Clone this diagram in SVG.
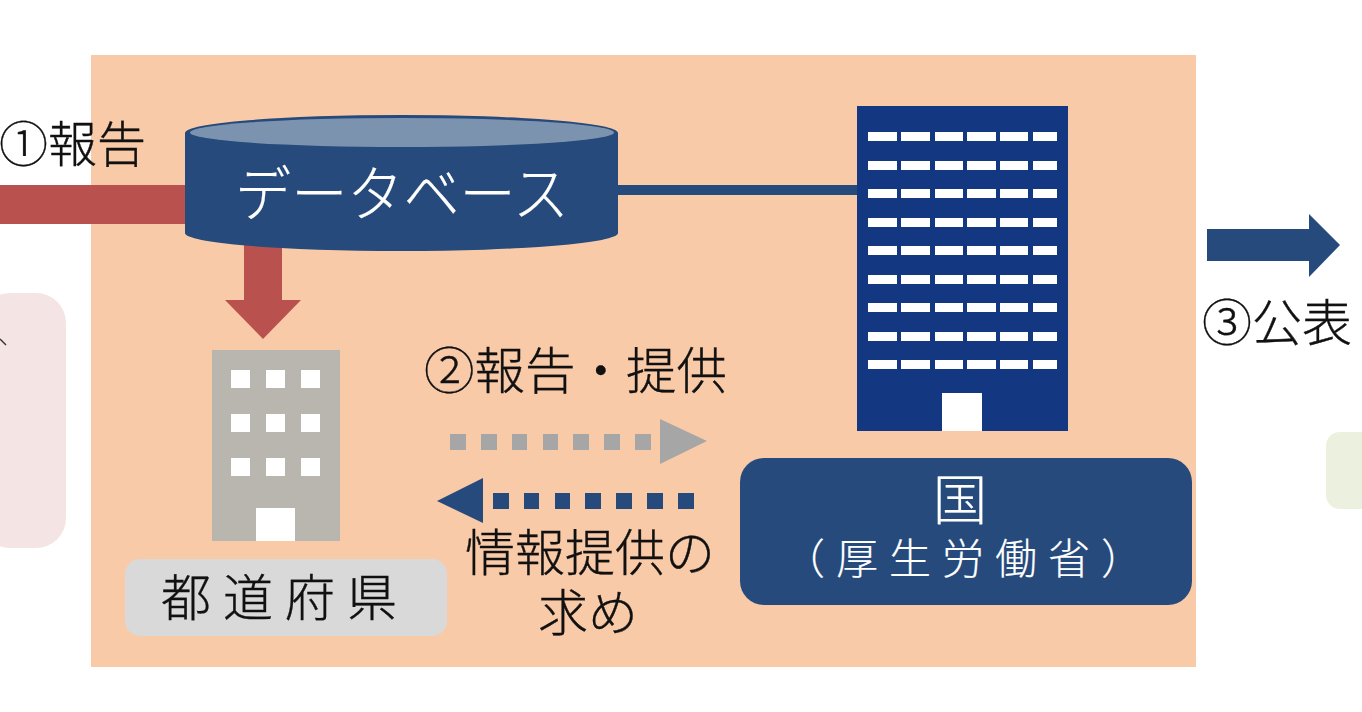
<svg xmlns="http://www.w3.org/2000/svg" width="1362" height="712" viewBox="0 0 1362 712">
<style>
text{font-family:"Noto Sans CJK JP","Liberation Sans",sans-serif;font-weight:300;fill:#111;stroke:#111;stroke-width:.35px}
.lbl{font-size:50px}
.ctr{text-anchor:middle}
.inv{fill:#fff;stroke:#fff;stroke-width:.2px}
</style>
<rect width="1362" height="712" fill="#fff"/>
<rect x="91" y="55" width="1105" height="612" fill="#f8caa8"/>
<rect x="-20" y="293" width="86" height="255" rx="30" fill="#f4e5e4"/>
<path d="M0 339L6 345" stroke="#333" stroke-width="1.500" fill="none"/>
<rect x="1326" y="432" width="60" height="77" rx="14" fill="#ebf0df"/>
<g id="connectors">
<rect x="0" y="185" width="190" height="39" fill="#b9524f"/>
<path d="M244 245H282V300H301L263 339L225 300H244Z" fill="#b9524f"/>
<rect x="610" y="185" width="250" height="10" fill="#254a7b"/>
<path d="M1207 229H1309V214L1340 245L1309 277V261H1207Z" fill="#254a7b"/>
<path d="M450 434h16v16h-16zM481 434h16v16h-16zM512 434h15v16h-15zM543 434h15v16h-15zM573 434h16v16h-16zM604 434h16v16h-16zM635 434h16v16h-16zM660 419L707 441L660 464Z" fill="#a6a6a6"/>
<path d="M493 493h16v16h-16zM524 493h15v16h-15zM555 493h15v16h-15zM585 493h16v16h-16zM616 493h16v16h-16zM647 493h16v16h-16zM678 493h16v16h-16zM483 478L437 501L483 523Z" fill="#254a7b"/>
</g>
<g id="database">
<path d="M185 133A216.500 18 0 0 1 618 133V233A216.500 18 0 0 1 185 233Z" fill="#254a7b"/>
<ellipse cx="402" cy="132.500" rx="212" ry="14.500" fill="#7c93b0"/>
<text class="inv ctr" x="402" y="216" font-size="60" textLength="334" lengthAdjust="spacingAndGlyphs">データベース</text>
</g>
<g id="prefecture-building">
<rect x="212" y="350" width="128" height="191" fill="#b8b6ae"/>
<g fill="#fff">
<rect x="231" y="370" width="19" height="18"/><rect x="266" y="370" width="19" height="18"/><rect x="301" y="370" width="19" height="18"/>
<rect x="231" y="414" width="19" height="18"/><rect x="266" y="414" width="19" height="18"/><rect x="301" y="414" width="19" height="18"/>
<rect x="231" y="458" width="19" height="18"/><rect x="266" y="458" width="19" height="18"/><rect x="301" y="458" width="19" height="18"/>
<rect x="256" y="508" width="39" height="33"/>
</g>
</g>
<g id="prefecture">
<rect x="125" y="559" width="322" height="77" rx="15" fill="#d9d9d9"/>
<text x="161" y="616" font-size="50" letter-spacing="12">都道府県</text>
</g>
<g id="gov-building">
<rect x="857" y="106" width="211" height="325" fill="#133881"/>
<g fill="#fff">
<path d="M868 132h29v9h-29zM901 132h29v9h-29zM935 132h28v9h-28zM967 132h29v9h-29zM1000 132h28v9h-28zM1033 132h24v9h-24z"/>
<path d="M868 161h29v9h-29zM901 161h29v9h-29zM935 161h28v9h-28zM967 161h29v9h-29zM1000 161h28v9h-28zM1033 161h24v9h-24z"/>
<path d="M868 189h29v9h-29zM901 189h29v9h-29zM935 189h28v9h-28zM967 189h29v9h-29zM1000 189h28v9h-28zM1033 189h24v9h-24z"/>
<path d="M868 218h29v9h-29zM901 218h29v9h-29zM935 218h28v9h-28zM967 218h29v9h-29zM1000 218h28v9h-28zM1033 218h24v9h-24z"/>
<path d="M868 246h29v9h-29zM901 246h29v9h-29zM935 246h28v9h-28zM967 246h29v9h-29zM1000 246h28v9h-28zM1033 246h24v9h-24z"/>
<path d="M868 275h29v9h-29zM901 275h29v9h-29zM935 275h28v9h-28zM967 275h29v9h-29zM1000 275h28v9h-28zM1033 275h24v9h-24z"/>
<path d="M868 303h29v9h-29zM901 303h29v9h-29zM935 303h28v9h-28zM967 303h29v9h-29zM1000 303h28v9h-28zM1033 303h24v9h-24z"/>
<path d="M868 332h29v9h-29zM901 332h29v9h-29zM935 332h28v9h-28zM967 332h29v9h-29zM1000 332h28v9h-28zM1033 332h24v9h-24z"/>
<path d="M868 360h29v9h-29zM901 360h29v9h-29zM935 360h28v9h-28zM967 360h29v9h-29zM1000 360h28v9h-28zM1033 360h24v9h-24z"/>
<rect x="942" y="393" width="40" height="38"/>
</g>
</g>
<g id="government">
<rect x="740" y="458" width="452" height="147" rx="24" fill="#254a7b"/>
<text class="inv ctr" x="960" y="520" font-size="54">国</text>
<text class="inv" x="783" y="574" font-size="42" letter-spacing="11">（厚生労働省）</text>
</g>
<g id="labels">
<text x="-1" y="162" style="font-size:49px">①報告</text>
<text x="424" y="389" style="font-size:50.500px">②報告・提供</text>
<text class="lbl ctr" x="590" y="571">情報提供の</text>
<text class="lbl ctr" x="588" y="631">求め</text>
<text class="lbl" x="1202" y="341">③公表</text>
</g>
</svg>
